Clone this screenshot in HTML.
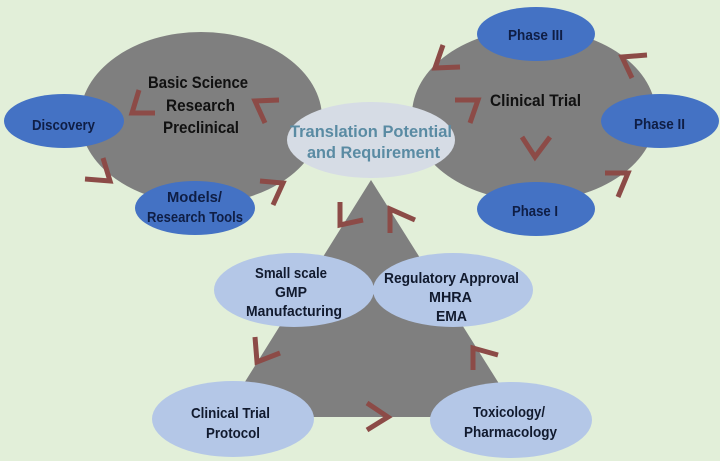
<!DOCTYPE html>
<html><head><meta charset="utf-8"><style>
html,body{margin:0;padding:0;background:#e2efd9;}
svg{display:block;}
text{font-family:"Liberation Sans",sans-serif;font-weight:bold;}
</style></head><body>
<svg width="720" height="461" viewBox="0 0 720 461" xmlns="http://www.w3.org/2000/svg">
<rect width="720" height="461" fill="#e2efd9"/>
<!-- big gray shapes -->
<ellipse cx="201" cy="118" rx="121" ry="86" fill="#7f7f7f"/>
<ellipse cx="534" cy="115" rx="122" ry="86" fill="#7f7f7f"/>
<polygon points="371,180 223,417 520,417" fill="#7f7f7f"/>

<!-- chevrons -->
<g fill="none" stroke="#8c4b47" stroke-width="5" stroke-linejoin="miter" stroke-linecap="butt">
<polyline points="139,90 132,113 155,113"/>
<polyline points="279,100 255,101 265,123"/>
<polyline points="103,158 110,181 85,179"/>
<polyline points="260,181 283,183 273,205"/>
<polyline points="443,45 435,68 460,67"/>
<polyline points="455,100 478,100 470,123"/>
<polyline points="522,137 535,157 550,137"/>
<polyline points="647,55 622,57 632,78"/>
<polyline points="605,173 628,173 618,197"/>
<polyline points="340,202 340,225 363,220"/>
<polyline points="390,233 390,209 415,220"/>
<polyline points="255,337 257,362 280,353"/>
<polyline points="473,370 473,348 498,355"/>
<polyline points="367,403 388,417 367,430"/>
</g>

<!-- dark blue ellipses -->
<g fill="#4472c4">
<ellipse cx="64" cy="121" rx="60" ry="27"/>
<ellipse cx="195" cy="208" rx="60" ry="27"/>
<ellipse cx="536" cy="34" rx="59" ry="27"/>
<ellipse cx="660" cy="121" rx="59" ry="27"/>
<ellipse cx="536" cy="209" rx="59" ry="27"/>
</g>

<!-- translation ellipse -->
<ellipse cx="371" cy="140" rx="84" ry="38" fill="#d6dce5"/>

<!-- light blue ellipses -->
<g fill="#b4c7e7">
<ellipse cx="294" cy="290" rx="80" ry="37"/>
<ellipse cx="453" cy="290" rx="80" ry="37"/>
<ellipse cx="233" cy="419" rx="81" ry="38"/>
<ellipse cx="511" cy="420" rx="81" ry="38"/>
</g>

<!-- text on gray -->
<g fill="#111111" font-size="17">
<text x="148" y="88" textLength="100" lengthAdjust="spacingAndGlyphs">Basic Science</text>
<text x="166" y="111" textLength="69" lengthAdjust="spacingAndGlyphs">Research</text>
<text x="163" y="133" textLength="76" lengthAdjust="spacingAndGlyphs">Preclinical</text>
<text x="490" y="106" textLength="91" lengthAdjust="spacingAndGlyphs">Clinical Trial</text>
</g>

<!-- text on dark blue -->
<g fill="#0f1e45" font-size="15">
<text x="32" y="130" textLength="63" lengthAdjust="spacingAndGlyphs">Discovery</text>
<text x="167" y="202" textLength="55" lengthAdjust="spacingAndGlyphs">Models/</text>
<text x="147" y="222" textLength="96" lengthAdjust="spacingAndGlyphs">Research Tools</text>
<text x="508" y="40" textLength="55" lengthAdjust="spacingAndGlyphs">Phase III</text>
<text x="634" y="129" textLength="51" lengthAdjust="spacingAndGlyphs">Phase II</text>
<text x="512" y="216" textLength="46" lengthAdjust="spacingAndGlyphs">Phase I</text>
</g>

<!-- translation text -->
<g fill="#5a8ba3" font-size="17">
<text x="290" y="137" textLength="162" lengthAdjust="spacingAndGlyphs">Translation Potential</text>
<text x="307" y="158" textLength="133" lengthAdjust="spacingAndGlyphs">and Requirement</text>
</g>

<!-- text on light blue -->
<g fill="#111a2e" font-size="15">
<text x="255" y="278" textLength="72" lengthAdjust="spacingAndGlyphs">Small scale</text>
<text x="275" y="297" textLength="32" lengthAdjust="spacingAndGlyphs">GMP</text>
<text x="246" y="316" textLength="96" lengthAdjust="spacingAndGlyphs">Manufacturing</text>
<text x="384" y="283" textLength="135" lengthAdjust="spacingAndGlyphs">Regulatory Approval</text>
<text x="429" y="302" textLength="43" lengthAdjust="spacingAndGlyphs">MHRA</text>
<text x="436" y="321" textLength="31" lengthAdjust="spacingAndGlyphs">EMA</text>
<text x="191" y="418" textLength="79" lengthAdjust="spacingAndGlyphs">Clinical Trial</text>
<text x="206" y="438" textLength="54" lengthAdjust="spacingAndGlyphs">Protocol</text>
<text x="473" y="417" textLength="72" lengthAdjust="spacingAndGlyphs">Toxicology/</text>
<text x="464" y="437" textLength="93" lengthAdjust="spacingAndGlyphs">Pharmacology</text>
</g>
</svg>
</body></html>
